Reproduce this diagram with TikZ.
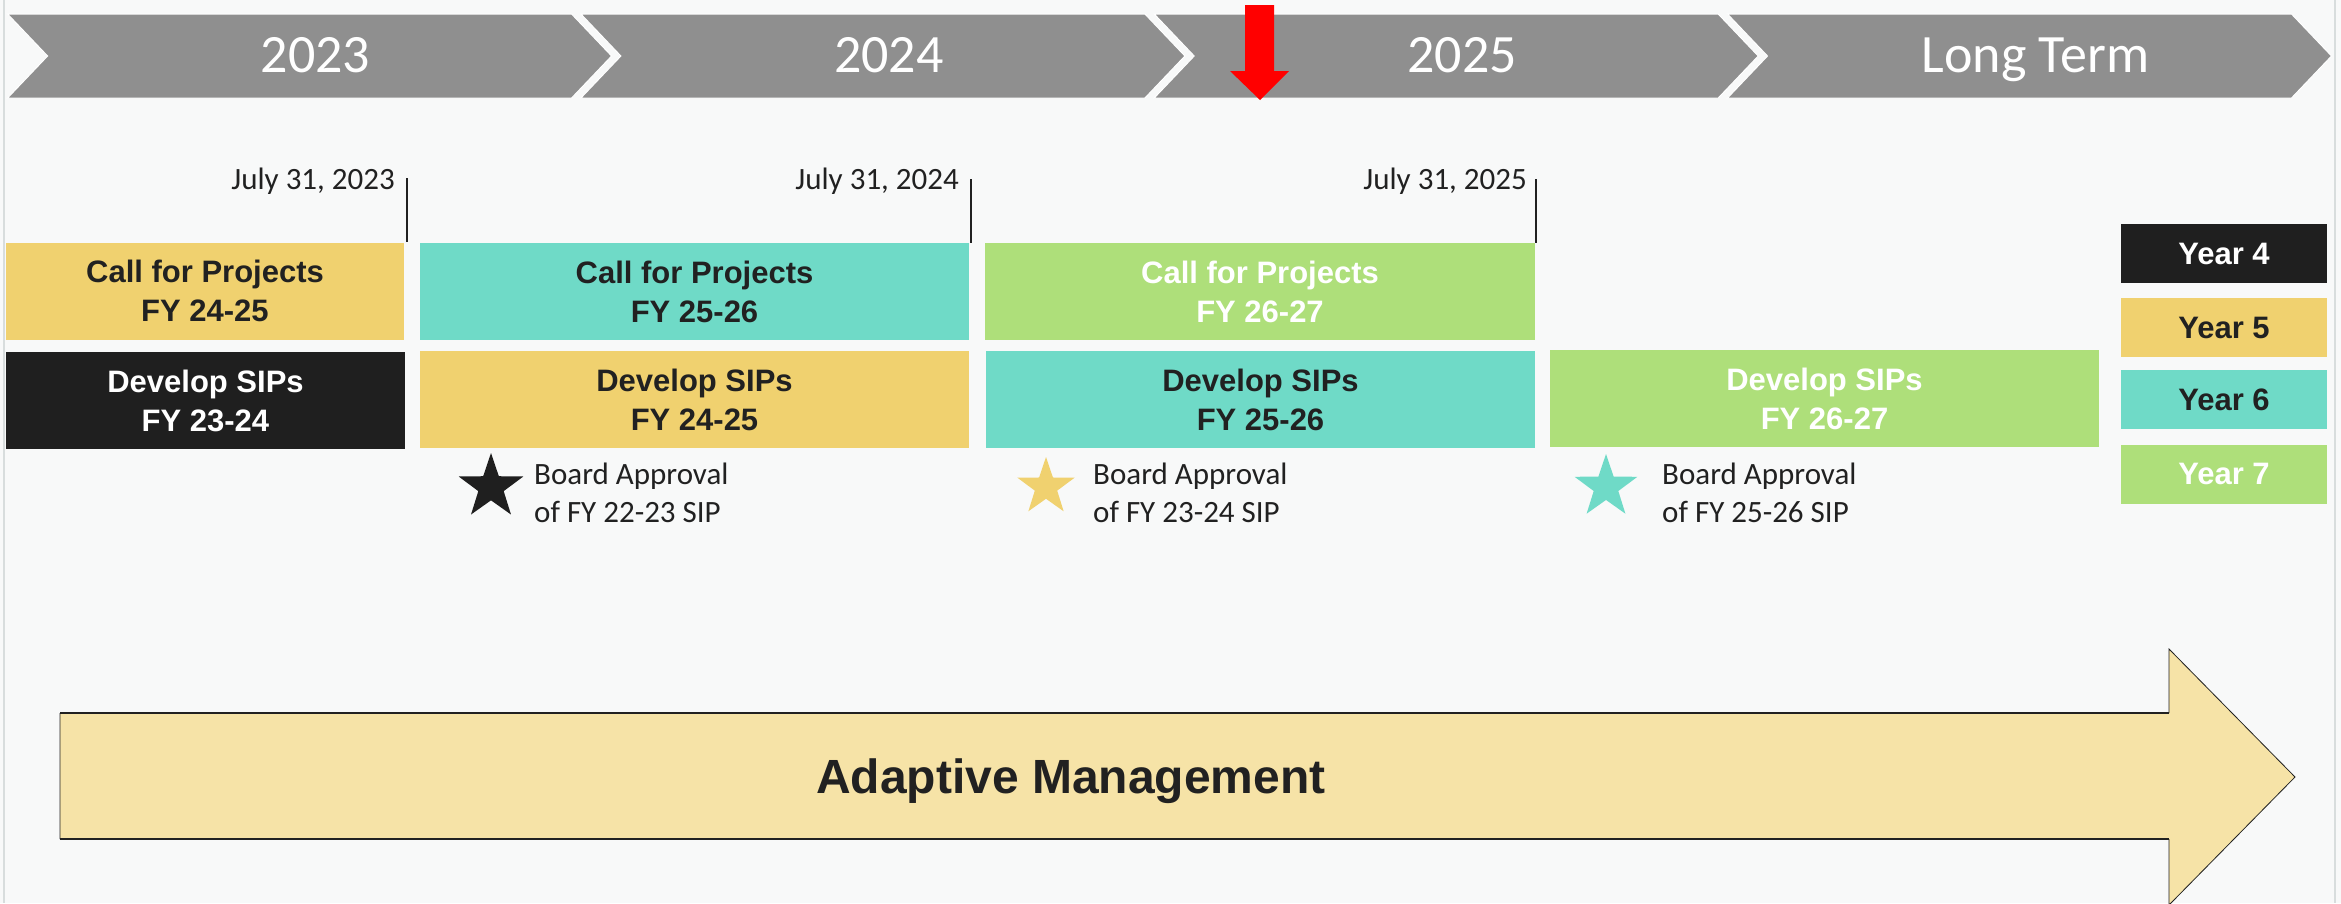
\documentclass[tikz,border=0pt]{standalone}
\usepackage{fontspec}
\setmainfont{Carlito}
\newfontfamily\arialfont{Liberation Sans}
\usetikzlibrary{shapes.geometric}

\definecolor{bgcol}{HTML}{F8F9F9}
\definecolor{framecol}{HTML}{D8DDDD}
\definecolor{chevgray}{HTML}{8F8F8F}
\definecolor{ink}{HTML}{212121}
\definecolor{fyyellow}{HTML}{F0D16F}
\definecolor{fyteal}{HTML}{6FDAC7}
\definecolor{fygreen}{HTML}{AEDF7A}
\definecolor{fyblack}{HTML}{1F1F1F}
\definecolor{amfill}{HTML}{F6E3A7}

\begin{document}
\begin{tikzpicture}
  [x=1pt,y=-1pt,
   bar/.style={minimum width=549,minimum height=97,inner sep=0,align=center,
     font=\arialfont\bfseries\fontsize{31}{39}\selectfont,text=ink},
   yearbox/.style={bar,minimum width=206,minimum height=59},
   datelabel/.style={anchor=base east,inner sep=0,text=ink,font=\fontsize{31}{38}\selectfont},
   approval/.style={star,star points=5,star point ratio=2.55,inner sep=0,minimum size=#1},
   note/.style={anchor=west,inner sep=0,align=left,text=ink,font=\fontsize{31}{38}\selectfont}]
  \useasboundingbox (0,0) rectangle (2341,903);
  \fill[bgcol] (0,0) rectangle (2341,903);
  \draw[framecol,line width=2] (4,0) -- (4,903) (2335,0) -- (2335,903);

  \foreach \i/\lbl in {0/2023,1/2024,2/2025,3/Long Term} {
    \filldraw[fill=chevgray,draw=white,line width=1] ({7.6+573.3*\i},14) -- ++(564,0) -- ++(40,42)
      -- ++(-40,42) -- ++(-564,0) -- ++(40,-42) -- cycle;
    \node[anchor=base,inner sep=0,text=white,font=\fontsize{54}{60}\selectfont] (yr\i)
      at ({315.6+573.3*\i},72) {\lbl};
  }
  \fill[red] (1245,5) -- (1274,5) -- (1274,71) -- (1289,71) -- (1260,100) -- (1230,71) -- (1245,71) -- cycle;

  \node[datelabel] (d1) at (395,189) {July 31, 2023};
  \node[datelabel] (d2) at (959,189) {July 31, 2024};
  \node[datelabel] (d3) at (1527,189) {July 31, 2025};
  \coordinate (t1) at (407,178);
  \coordinate (t2) at (971,179);
  \coordinate (t3) at (1536,179);

  \node[bar,fill=fyyellow,minimum width=398] (cfp1) at (205,291) {Call for Projects\\FY 24-25};
  \node[bar,fill=fyteal] (cfp2) at (694.5,291.5) {Call for Projects\\FY 25-26};
  \node[bar,fill=fygreen,text=white,minimum width=550] (cfp3) at (1260,291.5) {Call for Projects\\FY 26-27};
  \node[bar,fill=fyblack,text=white,minimum width=399] (dev1) at (205.5,400.5) {Develop SIPs\\FY 23-24};
  \node[bar,fill=fyyellow] (dev2) at (694.5,399.5) {Develop SIPs\\FY 24-25};
  \node[bar,fill=fyteal] (dev3) at (1260.5,399.5) {Develop SIPs\\FY 25-26};
  \node[bar,fill=fygreen,text=white] (dev4) at (1824.5,398.5) {Develop SIPs\\FY 26-27};

  \foreach \from/\to in {t1/cfp1,t2/cfp2,t3/cfp3}
    \draw[ink,line width=1.5] (\from) -- (\from |- \to.north);

  \node[yearbox,fill=fyblack,text=white] (y4) at (2224,253.5) {Year 4};
  \node[yearbox,fill=fyyellow] (y5) at (2224,327.5) {Year 5};
  \node[yearbox,fill=fyteal] (y6) at (2224,399.5) {Year 6};
  \node[yearbox,fill=fygreen,text=white] (y7) at (2224,474) {Year 7};

  \node[approval=68,fill=fyblack] (s1) at (491,487) {};
  \node[approval=60,fill=fyyellow] (s2) at (1046,487) {};
  \node[approval=66,fill=fyteal] (s3) at (1606,487) {};
  \node[note] (n1) at (534,493) {Board Approval\\of FY 22-23 SIP};
  \node[note] (n2) at (1093,493) {Board Approval\\of FY 23-24 SIP};
  \node[note] (n3) at (1662,493) {Board Approval\\of FY 25-26 SIP};

  \fill[amfill] (60,713) -- (2169,713) -- (2169,649) -- (2295,777) -- (2169,905) -- (2169,839) -- (60,839) -- cycle;
  \draw[ink,line width=0.8] (60,713) -- (60,839)
    (2169,713) -- (2169,649) -- (2295,777) -- (2169,905) -- (2169,839);
  \draw[ink,line width=2.5] (60,713) -- (2169,713) (60,839) -- (2169,839);
  \node[anchor=base,inner sep=0,text=ink,font=\arialfont\bfseries\fontsize{48}{56}\selectfont] (am)
    at (1071,793) {Adaptive Management};
\end{tikzpicture}
\end{document}
